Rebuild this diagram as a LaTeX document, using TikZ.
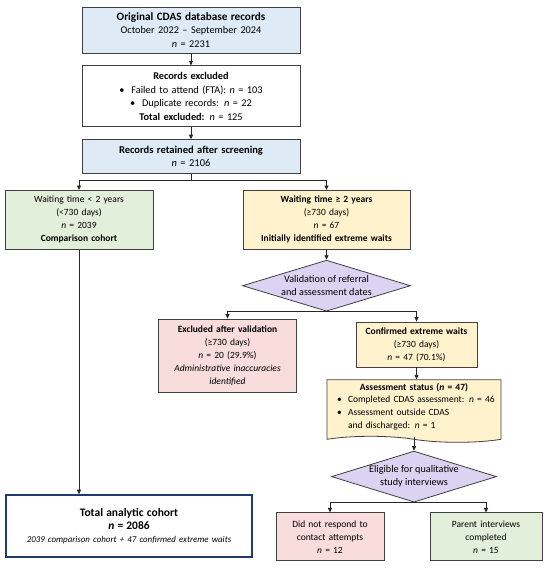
\documentclass[tikz,border=0pt]{standalone}
\usepackage{fontspec}
\setmainfont{Carlito}
\usetikzlibrary{positioning,arrows.meta,shapes.geometric,shapes.symbols}
\definecolor{hdrblue}{HTML}{DEEBF7}
\definecolor{shortgreen}{HTML}{E2EFDA}
\definecolor{longyellow}{HTML}{FFF2CC}
\definecolor{droppink}{HTML}{F9DCDC}
\definecolor{lilac}{HTML}{DCD3F2}
\definecolor{edge}{HTML}{404040}
\definecolor{navy}{HTML}{1F3A6E}
\tikzset{
  >={Triangle[length=4.5pt,width=4pt]},
}

\begin{document}
\begin{tikzpicture}[
  x=1pt, y=1pt,
  box/.style={draw=edge, line width=0.8pt, align=center, inner sep=2pt, font=\fontsize{9.5}{13}\selectfont},
  topbox/.style={box, text width=214pt, font=\fontsize{10.3}{13.5}\selectfont},
  decide/.style={diamond, draw=edge, line width=0.8pt, fill=lilac, aspect=3.3, inner sep=0pt, align=center, font=\fontsize{10.2}{13}\selectfont},
  arr/.style={->, line width=0.8pt, black!85}
]
  \useasboundingbox[fill=white] (0,0) rectangle (550,-570);

  % main column
  \node[topbox, fill=hdrblue, minimum height=46pt] (orig) at (191,-30)
    {{\fontsize{11.2}{14}\selectfont\textbf{Original CDAS database records}}\\October 2022 -- September 2024\\\textit{n} = 2231};
  \node[topbox, minimum height=61pt, below=12pt of orig] (excl)
    {\textbf{Records excluded}\\\textbullet\ \ Failed to attend (FTA): \textit{n} = 103\\\textbullet\ \ Duplicate records: \textit{n} = 22\\\textbf{Total excluded:} \textit{n} = 125};
  \node[topbox, fill=hdrblue, minimum height=34pt, below=12pt of excl, font=\fontsize{10.5}{13.5}\selectfont] (kept)
    {\textbf{Records retained after screening}\\\textit{n} = 2106};

  % split by waiting time
  \node[box, fill=shortgreen, text width=144pt, minimum height=59pt, below=16pt of kept, xshift=-112pt] (short)
    {Waiting time < 2 years\\(<730 days)\\\textit{n} = 2039\\\textbf{Comparison cohort}};
  \node[box, fill=longyellow, text width=163pt, minimum height=59pt, below=16pt of kept, xshift=135.5pt] (long)
    {\textbf{Waiting time ≥ 2 years}\\(≥730 days)\\\textit{n} = 67\\\textbf{Initially identified extreme waits}};
  \node[decide, minimum width=168pt, minimum height=51pt, below=10pt of long] (valid)
    {Validation of referral\\and assessment dates};
  \node[box, fill=droppink, text width=134pt, minimum height=73pt, below=7pt of valid, xshift=-99pt] (dropped)
    {\textbf{Excluded after validation}\\(≥730 days)\\\textit{n} = 20 (29.9\%)\\\textit{Administrative inaccuracies}\\\textit{identified}};
  \node[box, fill=longyellow, text width=117pt, minimum height=45pt, below=10pt of valid, xshift=90pt] (confirmed)
    {\textbf{Confirmed extreme waits}\\(≥730 days)\\\textit{n} = 47 (70.1\%)};
  \node[box, tape, tape bend top=none, tape bend bottom=out and in, tape bend height=6pt,
        fill=longyellow, text width=166pt, minimum height=58pt, inner sep=4pt, align=left,
        below=12pt of confirmed, xshift=-2.5pt] (status)
    {\makebox[\linewidth]{\textbf{Assessment status (\textit{n} = 47)}}\\
     \begin{tabular}{@{\hspace{6pt}}l@{\ \ }l@{}}
       \textbullet & Completed CDAS assessment: \textit{n} = 46\\
       \textbullet & Assessment outside CDAS\\
                   & and discharged: \textit{n} = 1
     \end{tabular}};
  \node[decide, minimum width=165pt, minimum height=51pt, below=14pt of status] (eligible)
    {Eligible for qualitative\\study interviews};
  \node[box, fill=droppink, text width=104pt, minimum height=48pt, below=10pt of eligible, xshift=-84pt] (noreply)
    {Did not respond to\\contact attempts\\\textit{n} = 12};
  \node[box, fill=shortgreen, text width=108pt, minimum height=48pt, below=10pt of eligible, xshift=72pt] (interv)
    {Parent interviews\\completed\\\textit{n} = 15};

  % final cohort
  \node[box, draw=navy, line width=1.6pt, text width=242pt, minimum height=62pt] (total) at (129,-526)
    {{\fontsize{11.5}{15}\selectfont\textbf{Total analytic cohort}}\\
     {\fontsize{11.5}{15}\selectfont\textbf{\textit{n} = 2086}}\\
     {\fontsize{8.9}{12}\selectfont\textit{2039 comparison cohort + 47 confirmed extreme waits}}};

  \draw[arr] (orig) -- (excl);
  \draw[arr] (excl) -- (kept);
  \draw[arr] (kept.south) -- ++(0,-6) -| (short.north);
  \draw[arr] (kept.south) -- ++(0,-6) -| (long.north);
  \draw[arr] (long) -- (valid);
  \draw[arr] (valid.south) -| (dropped.north);
  \draw[arr] (valid.south) -| (confirmed.north);
  \draw[arr] (confirmed.south) -- (confirmed.south |- status.north);
  \draw[arr] (status.south) -- (status.south |- eligible.north);
  \draw[arr] (eligible.south) -| (noreply.north);
  \draw[arr] (eligible.south) -| (interv.north);
  \draw[arr] (short.south) -- (short.south |- total.north);
\end{tikzpicture}
\end{document}
